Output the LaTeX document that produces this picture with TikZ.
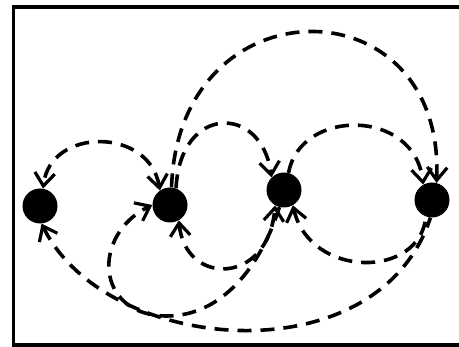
\documentclass[tikz,border=0pt]{standalone}
\usetikzlibrary{arrows.meta}
\begin{document}
\begin{tikzpicture}[x=1pt,y=-1pt,
  vertex/.style={circle, fill=black, minimum size=35pt, inner sep=0pt},
  link/.style={line width=3.6pt, dash pattern=on 14pt off 9pt},
  >={Straight Barb[length=13pt,width=20pt,line width=3.2pt]}]
\useasboundingbox (0,0) rectangle (459,347);
\draw[line width=3.5pt] (13.7,7) rectangle (465,345);
\node[vertex] (A) at (40,206) {};
\node[vertex] (B) at (170,205) {};
\node[vertex] (C) at (284,190) {};
\node[vertex] (D) at (432,200) {};
\coordinate (e6) at (167,316);
% upper arcs
\draw[link,<->] (B.125) .. controls (150,127) and (50,127) .. (A.80);
\draw[link,->] (B.70) .. controls (180,104) and (262,104) .. (C.135);
\draw[link,->] (B.85) .. controls (178,-19) and (445,-19) .. (D.75);
\draw[link,->] (C.75) .. controls (300,108) and (415,108) .. (D.120);
% lower arcs
\draw[link,<->] (B.300) .. controls (185,286) and (268,286) .. (C.240);
\draw[link,->] (C.255) .. controls (261,266) and (222,316) .. (e6) .. controls (95,316) and (91,235) .. (B.180);
\draw[link,<-] (A.275) .. controls (105.8,354.6) and (377.7,378.4) .. (D.265);
\draw[link,<-] (C.300) .. controls (310,279) and (420,279) .. (D.250);
\end{tikzpicture}
\end{document}
